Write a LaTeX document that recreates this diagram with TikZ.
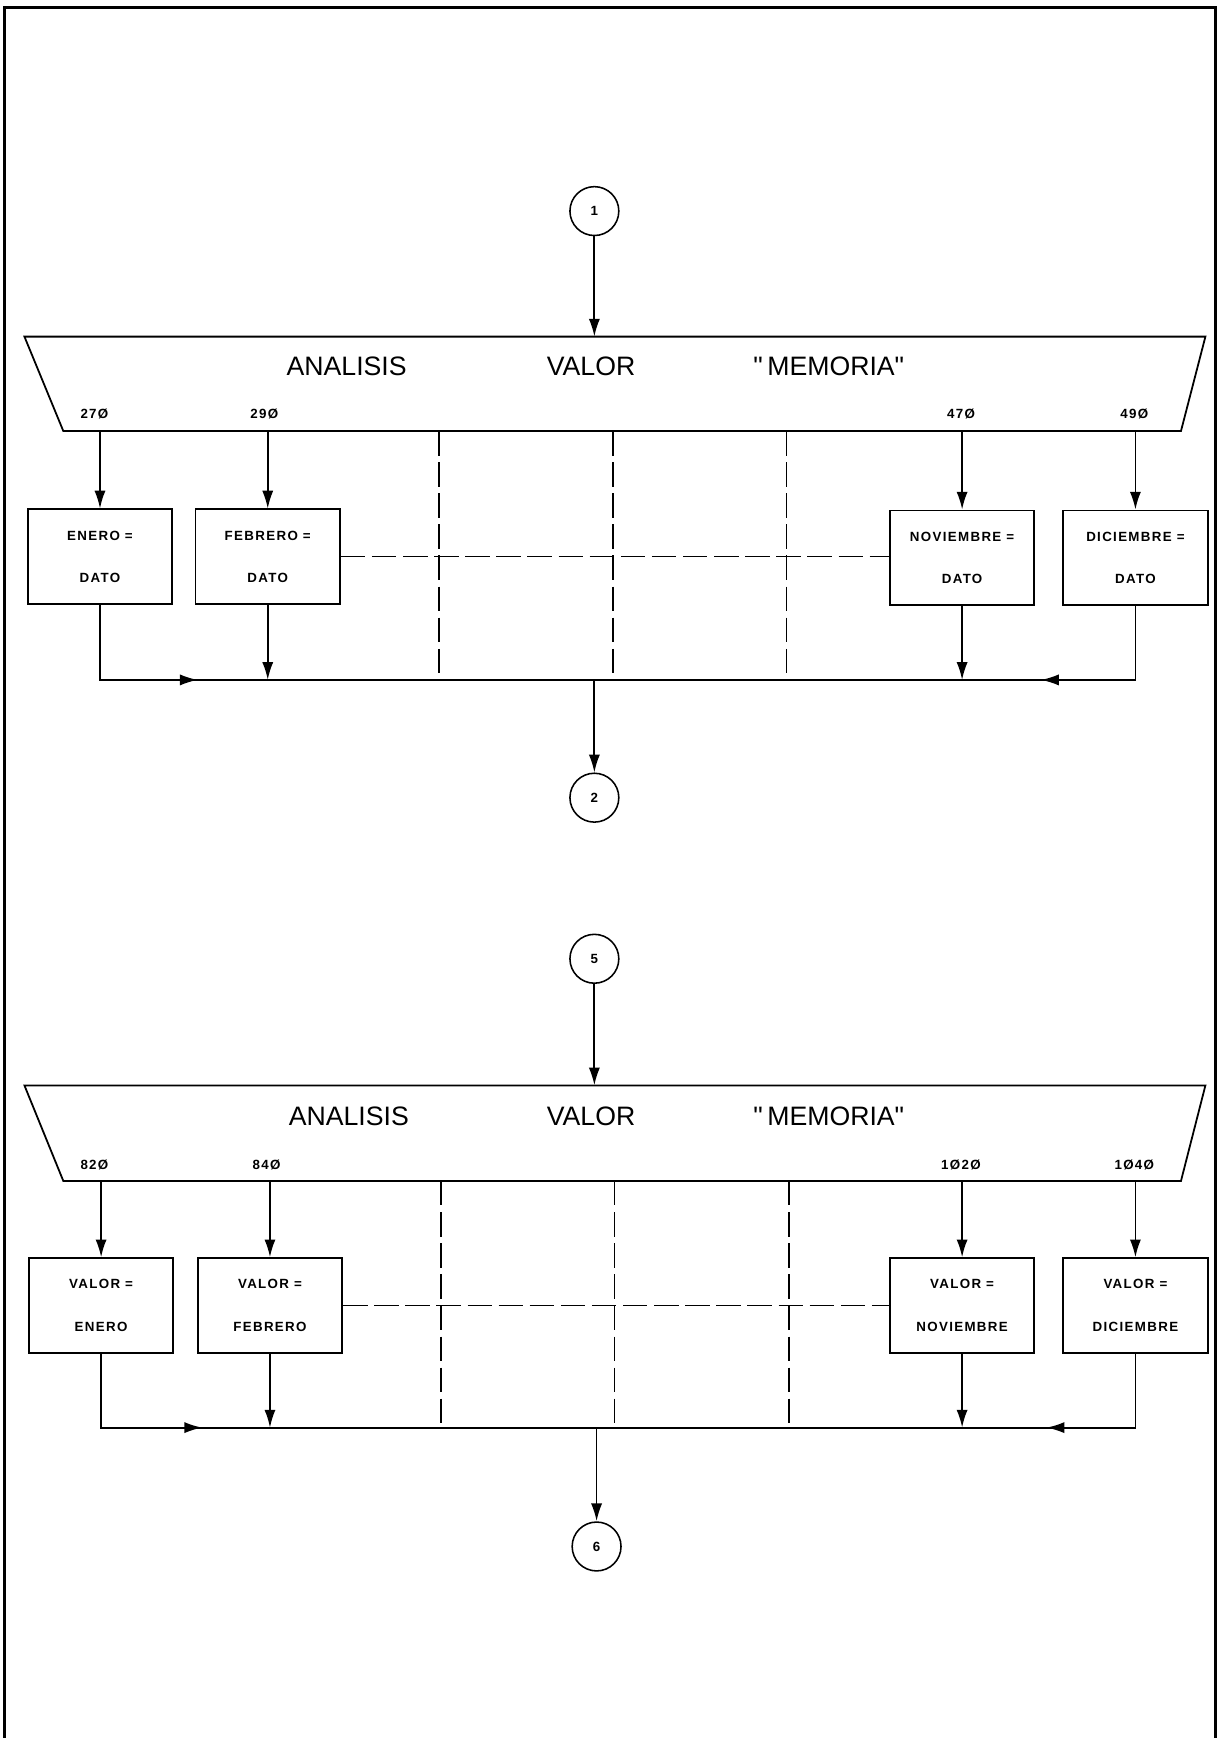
\documentclass[tikz,border=0pt]{standalone}
\usepackage{fontspec}
\setmainfont{Liberation Sans}
\newfontfamily\lsfont[LetterSpace=10]{Liberation Sans}
\newfontfamily\hfont{Liberation Sans}
\usetikzlibrary{arrows.meta}
\begin{document}
\begin{tikzpicture}[x=0.5pt,y=-0.5pt,
  ln/.style={line width=0.8pt},
  arr/.style={line width=0.8pt,-{Latex[length=8pt,width=5pt]}},
  dsh/.style={line width=0.7pt,dash pattern=on 11pt off 3pt},
  box/.style={draw,line width=0.8pt,minimum width=65pt,minimum height=42.5pt,inner sep=0pt,align=center,font=\lsfont\fontsize{6}{19}\selectfont\bfseries},
  conn/.style={draw,circle,line width=0.7pt,minimum size=22pt,inner sep=0pt,font=\fontsize{6}{7}\selectfont\bfseries},
  head/.style={font=\hfont\fontsize{12}{14}\selectfont},
  num/.style={font=\lsfont\fontsize{6}{7}\selectfont\bfseries}]
\useasboundingbox (0,0) rectangle (1098,1568);
% frame
\draw[line width=1.4pt] (4,1564) -- (4,7) -- (1094,7) -- (1094,1564);

% ================= TOP SECTION =================
\node[conn] (c1) at (535,190) {1};
\draw[ln] (22,303) -- (1085,303) -- (1063,388) -- (57,388) -- cycle;
\coordinate (t1) at (535,303);
\draw[arr] (c1) -- (t1);
\node[head] (h1a) at (312,330) {ANALISIS};
\node[head] (h1b) at (532,330) {VALOR};
\node[head] (h1c) at (746,330) {"\,MEMORIA"};
\node[num] (n1a) at (85,373) {27Ø};
\node[num] (n1b) at (238,373) {29Ø};
\node[num] (n1c) at (865,373) {47Ø};
\node[num] (n1d) at (1021,373) {49Ø};
\coordinate (a1a) at (90,388);
\coordinate (a1b) at (241,388);
\coordinate (a1c) at (866,388);
\coordinate (a1d) at (1022,388);
\node[box] (e1) at (90,501) {ENERO =\\DATO};
\node[box] (f1) at (241,501) {FEBRERO =\\DATO};
\node[box] (v1) at (866,502) {NOVIEMBRE =\\DATO};
\node[box] (d1) at (1022,502) {DICIEMBRE =\\DATO};
\draw[arr] (a1a) -- (e1.north);
\draw[arr] (a1b) -- (f1.north);
\draw[arr] (a1c) -- (v1.north);
\draw[arr] (a1d) -- (d1.north);
\draw[dsh] (f1.east) -- (v1.west |- f1.east);
\draw[dsh] (395,388) -- (395,612);
\draw[dsh] (552,388) -- (552,612);
\draw[dsh] (708,388) -- (708,612);
\coordinate (b1L) at (90,612);
\coordinate (b1R) at (1022,612);
\coordinate (tip1L) at (178,612);
\coordinate (tip1R) at (937,612);
\coordinate (m1) at (535,612);
\draw[ln] (b1L) -- (b1R);
\draw[arr] (e1.south) |- (tip1L);
\draw[arr] (d1.south) |- (tip1R);
\draw[arr] (f1.south) -- (f1.south |- b1L);
\draw[arr] (v1.south) -- (v1.south |- b1L);
\node[conn] (c2) at (535,718) {2};
\draw[arr] (m1) -- (c2);

% ================= BOTTOM SECTION =================
\node[conn] (c5) at (535,863) {5};
\draw[ln] (22,977) -- (1085,977) -- (1063,1063) -- (57,1063) -- cycle;
\coordinate (t2) at (535,977);
\draw[arr] (c5) -- (t2);
\node[head] (h2a) at (314,1005) {ANALISIS};
\node[head] (h2b) at (532,1005) {VALOR};
\node[head] (h2c) at (746,1005) {"\,MEMORIA"};
\node[num] (n2a) at (85,1049) {82Ø};
\node[num] (n2b) at (240,1049) {84Ø};
\node[num] (n2c) at (865,1049) {1Ø2Ø};
\node[num] (n2d) at (1021,1049) {1Ø4Ø};
\coordinate (a2a) at (91,1063);
\coordinate (a2b) at (243,1063);
\coordinate (a2c) at (866,1063);
\coordinate (a2d) at (1022,1063);
\node[box] (e2) at (91,1175) {VALOR =\\ENERO};
\node[box] (f2) at (243,1175) {VALOR =\\FEBRERO};
\node[box] (v2) at (866,1175) {VALOR =\\NOVIEMBRE};
\node[box] (d2) at (1022,1175) {VALOR =\\DICIEMBRE};
\draw[arr] (a2a) -- (e2.north);
\draw[arr] (a2b) -- (f2.north);
\draw[arr] (a2c) -- (v2.north);
\draw[arr] (a2d) -- (d2.north);
\draw[dsh] (f2.east) -- (v2.west |- f2.east);
\draw[dsh] (397,1063) -- (397,1285);
\draw[dsh] (553,1063) -- (553,1285);
\draw[dsh] (710,1063) -- (710,1285);
\coordinate (b2L) at (91,1285);
\coordinate (b2R) at (1022,1285);
\coordinate (tip2L) at (182,1285);
\coordinate (tip2R) at (942,1285);
\coordinate (m2) at (537,1285);
\draw[ln] (b2L) -- (b2R);
\draw[arr] (e2.south) |- (tip2L);
\draw[arr] (d2.south) |- (tip2R);
\draw[arr] (f2.south) -- (f2.south |- b2L);
\draw[arr] (v2.south) -- (v2.south |- b2L);
\node[conn] (c6) at (537,1392) {6};
\draw[arr] (m2) -- (c6);
\end{tikzpicture}
\end{document}
